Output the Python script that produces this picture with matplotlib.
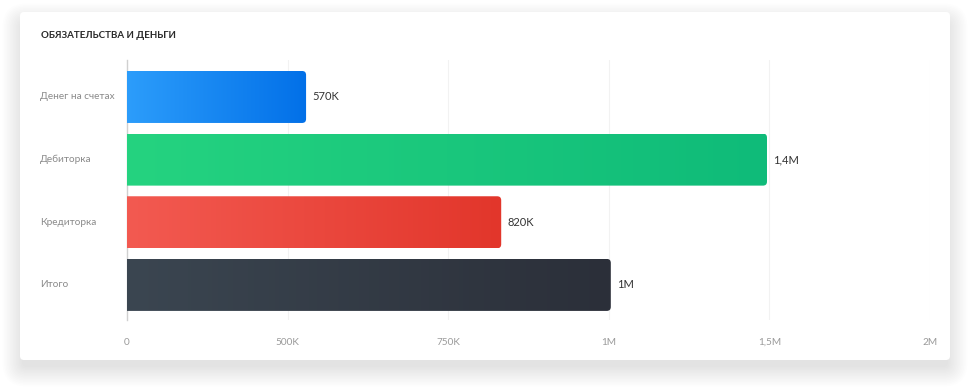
import numpy as np
import matplotlib
matplotlib.use('Agg')
import matplotlib.pyplot as plt
from matplotlib.patches import FancyBboxPatch, PathPatch
from matplotlib.path import Path
from matplotlib.colors import LinearSegmentedColormap
from matplotlib.transforms import IdentityTransform, blended_transform_factory

plt.rcParams['font.family'] = ['Lato', 'DejaVu Sans']

# data
categories = ['Денег на счетах', 'Дебиторка', 'Кредиторка', 'Итого']
values = [446000, 1594000, 932000, 1205000]
value_labels = ['570K', '1,4M', '820K', '1M']
tick_values = [0, 400000, 800000, 1200000, 1600000, 2000000]
tick_labels = ['0', '500K', '750K', '1M', '1,5M', '2M']
gradients = [('#2C9DFB', '#0270E8'),
             ('#25D380', '#0FBB79'),
             ('#F35A51', '#E2362B'),
             ('#3B4651', '#2B2F39')]

W, H = 970, 390
fig = plt.figure(figsize=(W / 100, H / 100), dpi=100)
fig.patch.set_facecolor('white')

# card with soft shadow (pixel coords, y up)
cx0, cx1, cy0, cy1 = 20, 950, 30, 378
for i in range(14):
    grow = 1 + i * 1.5
    shadow = FancyBboxPatch((cx0 - grow + 3, cy0 - grow - 6), (cx1 - cx0) + 2 * grow - 6,
                            (cy1 - cy0) + 2 * grow - 6,
                            boxstyle='round,pad=0,rounding_size=%d' % (4 + grow),
                            transform=IdentityTransform(), facecolor='black',
                            edgecolor='none', alpha=0.006, zorder=0)
    fig.patches.append(shadow)
card = FancyBboxPatch((cx0, cy0), cx1 - cx0, cy1 - cy0,
                      boxstyle='round,pad=0,rounding_size=4',
                      transform=IdentityTransform(), facecolor='white',
                      edgecolor='none', zorder=1)
fig.patches.append(card)

fig.text(41 / W, 1 - 36 / H, 'ОБЯЗАТЕЛЬСТВА И ДЕНЬГИ', fontsize=7, fontweight='bold',
         color='#2a2a2a', ha='left', va='center')

# axes: x from 127 to 930 px, y from 60 to 320 px (top)
ax = fig.add_axes([127 / W, 1 - 320 / H, (930 - 127) / W, (320 - 60) / H])
ax.set_facecolor('none')
ax.set_zorder(2)
ax.set_xlim(0, 2000000)
ax.set_ylim(3.56, -0.59)

for s in ['top', 'right', 'bottom']:
    ax.spines[s].set_visible(False)
ax.spines['left'].set_color('#d0d0d0')
ax.spines['left'].set_linewidth(1)

ax.set_xticks(tick_values)
ax.set_xticklabels(tick_labels)
ax.tick_params(axis='x', length=0, pad=13, labelsize=7.2, labelcolor='#9a9a9a')
ax.set_yticks([])
for t in tick_values[1:]:
    ax.axvline(t, color='#f2f2f2', lw=0.8, zorder=0)

fig.canvas.draw()
label_tr = blended_transform_factory(fig.transFigure, ax.transData)
bar_h = 0.83
r = 4
for i, (cat, v, lab, (c0, c1)) in enumerate(zip(categories, values, value_labels, gradients)):
    (x0, y0), (x1, y1) = ax.transData.transform([(0, i + bar_h / 2), (v, i - bar_h / 2)])
    verts = [(x0, y0), (x1 - r, y0), (x1, y0), (x1, y0 + r), (x1, y1 - r), (x1, y1),
             (x1 - r, y1), (x0, y1), (x0, y0)]
    codes = [Path.MOVETO, Path.LINETO, Path.CURVE3, Path.CURVE3, Path.LINETO,
             Path.CURVE3, Path.CURVE3, Path.LINETO, Path.CLOSEPOLY]
    clip = PathPatch(Path(verts, codes), transform=IdentityTransform(),
                     facecolor='none', edgecolor='none')
    ax.add_artist(clip)
    cmap = LinearSegmentedColormap.from_list('g%d' % i, [c0, c1])
    im = ax.imshow(np.linspace(0, 1, 256).reshape(1, -1), cmap=cmap, aspect='auto',
                   extent=[0, v, i + bar_h / 2, i - bar_h / 2], zorder=3,
                   interpolation='bilinear')
    im.set_clip_path(clip)
    ax.annotate(lab, (v, i), xytext=(4.5, 0), textcoords='offset points', ha='left',
                va='center', fontsize=8, color='#333333', zorder=4)
    fig.text(40 / W, i, cat, fontsize=7.2, color='#8a8a8a', ha='left', va='center',
             transform=label_tr)

ax.set_xlim(0, 2000000)
ax.set_ylim(3.56, -0.59)

fig.savefig('out.png', dpi=100, facecolor='white')
